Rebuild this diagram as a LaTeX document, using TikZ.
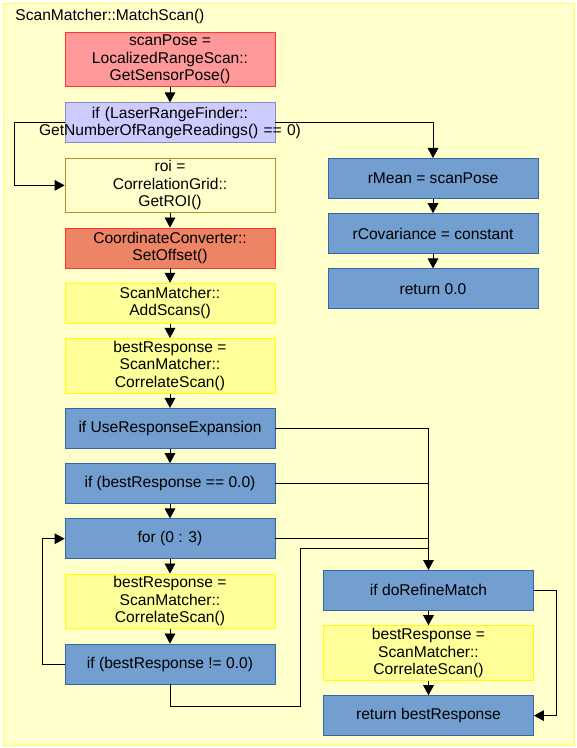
\documentclass[tikz,border=0pt]{standalone}
\usepackage{fontspec}
\setmainfont{Liberation Sans}
\usetikzlibrary{positioning,arrows.meta}

\definecolor{framefill}{HTML}{FFFFCC}
\definecolor{frameline}{HTML}{FFFF55}
\definecolor{posefill}{HTML}{FF9999}
\definecolor{poseline}{HTML}{FF3333}
\definecolor{lrffill}{HTML}{CCCCFF}
\definecolor{lrfline}{HTML}{8888CC}
\definecolor{roiline}{HTML}{B8902A}
\definecolor{convfill}{HTML}{EE8466}
\definecolor{callfill}{HTML}{FFFF99}
\definecolor{callline}{HTML}{FFFF00}
\definecolor{stepfill}{HTML}{729FCF}
\definecolor{stepline}{HTML}{3465A4}

\begin{document}
\begin{tikzpicture}[
    x=0.75pt, y=-0.75pt,
    font=\fontsize{11.7}{13.1}\selectfont,
    node distance=10.8pt,
    line width=0.6pt,
    box/.style = {draw, align=center, minimum width=157.5pt, minimum height=30pt, inner xsep=2.8pt, inner ysep=2pt},
    pose/.style = {box, fill=posefill, draw=poseline},
    check/.style = {box, fill=lrffill, draw=lrfline},
    roibox/.style = {box, fill=framefill, draw=roiline},
    conv/.style = {box, fill=convfill, draw=poseline},
    call/.style = {box, fill=callfill, draw=callline},
    stmt/.style = {box, fill=stepfill, draw=stepline},
    flow/.style = {-{Triangle[length=7.5pt,width=8pt]}},
    link/.style = {-}
    ]
  \useasboundingbox (0,0) rectangle (577,748);
  \draw[fill=framefill, draw=frameline] (3,3) rectangle (574,745);
  \node[anchor=north west, inner sep=0pt] (title) at (15,9) {ScanMatcher::MatchScan()};

  % main column
  \node[pose, anchor=north] (pose) at (170,32) {scanPose =\\LocalizedRangeScan::\\GetSensorPose()};
  \node[check, text width=150pt, below=11.5pt of pose] (lrf) {if (LaserRangeFinder::\\\makebox[150pt]{GetNumberOfRangeReadings() == 0)}};
  \node[roibox, below=of lrf] (roi) {roi =\\CorrelationGrid::\\GetROI()};
  \node[conv, below=of roi] (conv) {CoordinateConverter::\\SetOffset()};
  \node[call, below=of conv] (scans) {ScanMatcher::\\AddScans()};
  \node[call, below=of scans] (corr) {bestResponse =\\ScanMatcher::\\CorrelateScan()};
  \node[stmt, below=of corr] (expand) {if UseResponseExpansion};
  \node[stmt, below=of expand] (zero) {if (bestResponse == 0.0)};
  \node[stmt, below=of zero] (loop) {for (0 : 3)};
  \node[call, below=of loop] (corr2) {bestResponse =\\ScanMatcher::\\CorrelateScan()};
  \node[stmt, below=of corr2] (nonzero) {if (bestResponse != 0.0)};

  % empty scan
  \node[stmt, anchor=north] (mean) at (433,158) {rMean = scanPose};
  \node[stmt, below=of mean] (cov) {rCovariance = constant};
  \node[stmt, below=of cov] (ret) {return 0.0};

  % refinement
  \node[stmt, anchor=north] (refine) at (428.5,570) {if doRefineMatch};
  \node[call, below=of refine] (corr3) {bestResponse =\\ScanMatcher::\\CorrelateScan()};
  \node[stmt, below=of corr3] (result) {return bestResponse};
  \coordinate (back) at (300,548);

  \draw[flow] (pose) -- (lrf);
  \draw[flow] (lrf.west) -- ++(-50,0) |- (roi.west);
  \draw[flow] (lrf.east) -| (mean.north);
  \draw[flow] (roi) -- (conv);
  \draw[flow] (conv) -- (scans);
  \draw[flow] (scans) -- (corr);
  \draw[flow] (corr) -- (expand);
  \draw[flow] (expand) -- (zero);
  \draw[flow] (zero) -- (loop);
  \draw[flow] (loop) -- (corr2);
  \draw[flow] (corr2) -- (nonzero);
  \draw[flow] (nonzero.west) -- ++(-22,0) |- (loop.west);
  \draw[flow] (mean) -- (cov);
  \draw[flow] (cov) -- (ret);

  \draw[flow] (expand.east) -| (refine.north);
  \draw[link] (zero.east) -- (zero.east -| refine.north);
  \draw[link] (loop.east) -- (loop.east -| refine.north);
  \draw[link] (nonzero.south) -- ++(0,22) -| (back) -- (back -| refine.north);
  \draw[flow] (refine) -- (corr3);
  \draw[flow] (corr3) -- (result);
  \draw[flow] (refine.east) -- ++(22,0) |- (result.east);
\end{tikzpicture}
\end{document}
